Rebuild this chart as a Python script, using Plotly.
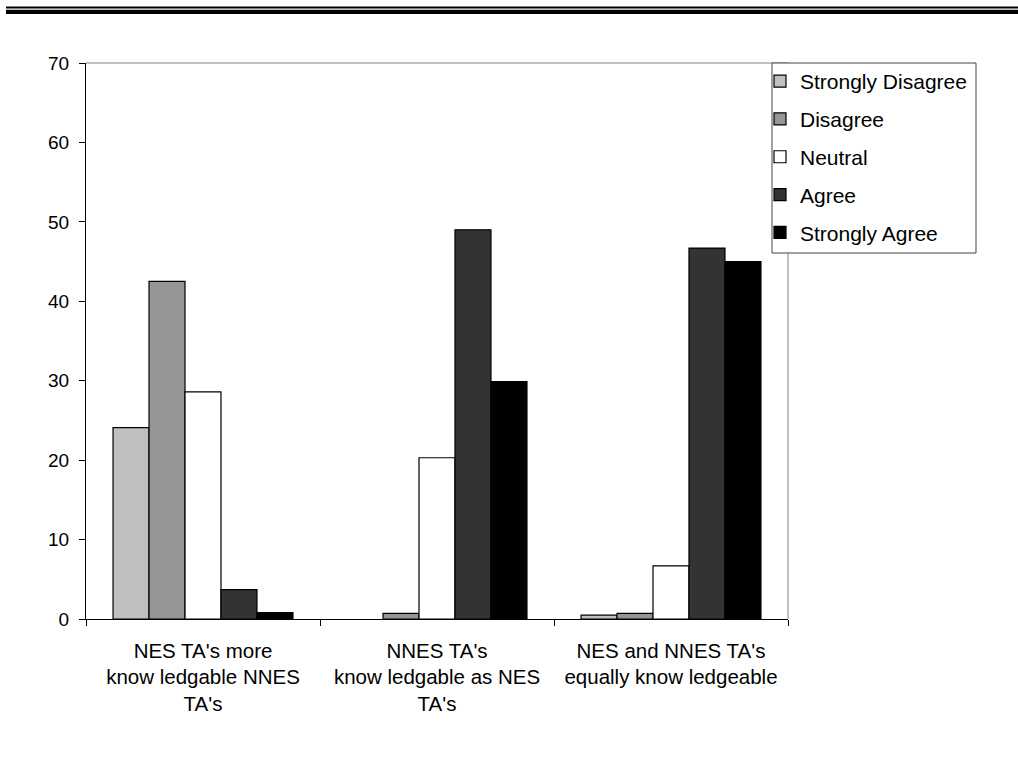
import plotly.graph_objects as go

# ---- data ----
categories = [
    "NES TA's more<br>know ledgable NNES<br>TA's",
    "NNES TA's<br>know ledgable as NES<br>TA's",
    "NES and NNES TA's<br>equally know ledgeable",
]
series_names = ["Strongly Disagree", "Disagree", "Neutral", "Agree", "Strongly Agree"]
strongly_disagree = [24.1, 0.0, 0.5]
disagree = [42.5, 0.7, 0.7]
neutral = [28.6, 20.3, 6.7]
agree = [3.7, 49.0, 46.7]
strongly_agree = [0.8, 29.9, 45.0]
y_ticks = [0, 10, 20, 30, 40, 50, 60, 70]

series_values = [strongly_disagree, disagree, neutral, agree, strongly_agree]
colors = ["#C0C0C0", "#969696", "#FFFFFF", "#333333", "#000000"]

W, H = 1018, 759
PL, PR, PT, PB = 86, 788, 63, 619
FONT = "Arial, Liberation Sans, sans-serif"


def px(x):
    return (x - PL) / (PR - PL)


def py(y):
    return (PB - y) / (PB - PT)


fig = go.Figure()
for i, (name, vals, col) in enumerate(zip(series_names, series_values, colors)):
    fig.add_trace(go.Bar(
        name=name, x=categories, y=vals,
        marker=dict(color=col,
                    line=dict(color="#000000", width=[1.2 if v > 0 else 0 for v in vals])),
        legendgroup=f"g{i}",
    ))

shapes = [
    # double rule at the top of the page
    dict(type="rect", xref="paper", yref="paper", x0=px(6), x1=px(1018), y0=py(8.5), y1=py(6.5),
         fillcolor="#000000", line=dict(width=0)),
    dict(type="rect", xref="paper", yref="paper", x0=px(6), x1=px(1018), y0=py(14), y1=py(9.8),
         fillcolor="#000000", line=dict(width=0)),
    # plot-area frame (top, right)
    dict(type="line", xref="paper", yref="paper", x0=0, x1=1, y0=1, y1=1,
         line=dict(color="#808080", width=1)),
    dict(type="line", xref="paper", yref="paper", x0=1, x1=1, y0=0, y1=1,
         line=dict(color="#808080", width=1)),
    # legend box
    dict(type="rect", xref="paper", yref="paper", x0=px(772), x1=px(976), y0=py(253), y1=py(63),
         fillcolor="#FFFFFF", line=dict(color="#444444", width=1)),
]

fig.update_layout(
    width=W, height=H,
    margin=dict(l=PL, r=W - PR, t=PT, b=H - PB, pad=0),
    paper_bgcolor="#FFFFFF", plot_bgcolor="#FFFFFF",
    barmode="group", bargap=0.231, bargroupgap=0,
    font=dict(family=FONT, size=19, color="#000000"),
    showlegend=True,
    legend=dict(
        x=px(760), y=py(61), xanchor="left", yanchor="top",
        bgcolor="rgba(0,0,0,0)", borderwidth=0,
        font=dict(family=FONT, size=21, color="#000000"),
        tracegroupgap=7.5, traceorder="grouped",
    ),
    shapes=shapes,
    xaxis=dict(
        showline=True, linecolor="#000000", linewidth=1,
        ticks="outside", ticklen=6, tickcolor="#000000", tickson="boundaries",
        showgrid=False, zeroline=False,
        tickfont=dict(family=FONT, size=20.5),
        ticklabelstandoff=13,
        fixedrange=True,
    ),
    yaxis=dict(
        range=[0, 70], tickvals=y_ticks,
        showline=True, linecolor="#000000", linewidth=1,
        ticks="outside", ticklen=6, tickcolor="#000000",
        showgrid=False, zeroline=False,
        tickfont=dict(family=FONT, size=19),
        ticklabelstandoff=6,
        fixedrange=True,
    ),
)

fig.write_html(
    "out.html",
    config={"displayModeBar": False},
    post_script="document.body.style.margin='0';document.body.style.overflow='hidden';",
)
